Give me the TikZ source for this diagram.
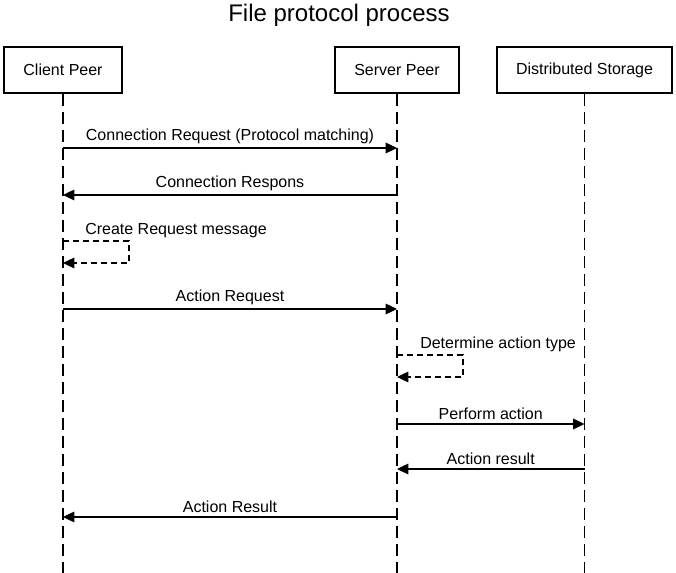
\documentclass[tikz,border=0pt]{standalone}
\usepackage{fontspec}
\setmainfont{Liberation Sans}
\usetikzlibrary{arrows.meta}
\begin{document}
\begin{tikzpicture}[x=0.75pt,y=-0.75pt,
  actor/.style={draw, line width=1.5pt, minimum height=34.5pt, inner sep=0pt,
    font=\fontsize{12}{14}\selectfont},
  lifeline/.style={line width=0.8pt, dash pattern=on 9pt off 4.5pt},
  msg/.style={line width=0.9pt, -{Triangle[length=8.5pt,width=8pt]}},
  selfmsg/.style={line width=0.9pt, dash pattern=on 4.5pt off 3pt, -{Triangle[length=8.5pt,width=8pt]}},
  lbl/.style={font=\fontsize{12}{14}\selectfont, inner sep=2.5pt},
]
\useasboundingbox (0,0) rectangle (676,573);

\node[font=\fontsize{18}{22}\selectfont] (title) at (339,15) {File protocol process};

\node[actor, minimum width=88.5pt] (client) at (63,70) {Client Peer};
\node[actor, minimum width=93pt] (server) at (397,70) {Server Peer};
\node[actor, minimum width=131.25pt] (storage) at (584.5,70) {Distributed Storage};

\coordinate (cend) at (63,573);
\coordinate (send) at (397,573);
\coordinate (dend) at (584.5,573);
\draw[lifeline] (client.south) -- (cend);
\draw[lifeline] (server.south) -- (send);
\draw[lifeline] (storage.south) -- (dend);

% 1
\coordinate (c1) at (63,148); \coordinate (s1) at (397,148);
\draw[msg] (c1) -- node[lbl, above] (l1) {Connection Request (Protocol matching)} (s1);
% 2
\coordinate (c2) at (63,195); \coordinate (s2) at (397,195);
\draw[msg] (s2) -- node[lbl, above] (l2) {Connection Respons} (c2);
% 3 self
\coordinate (c3a) at (63,241); \coordinate (c3b) at (129,241);
\coordinate (c3c) at (129,263); \coordinate (c3d) at (63,263);
\draw[selfmsg] (c3a) -- (c3b) -- (c3c) -- (c3d);
\node[lbl, anchor=base west, inner sep=0pt] (l3) at (85,235) {Create Request message};
% 4
\coordinate (c4) at (63,309); \coordinate (s4) at (397,309);
\draw[msg] (c4) -- node[lbl, above] (l4) {Action Request} (s4);
% 5 self
\coordinate (s5a) at (397,355); \coordinate (s5b) at (463,355);
\coordinate (s5c) at (463,377); \coordinate (s5d) at (397,377);
\draw[selfmsg] (s5a) -- (s5b) -- (s5c) -- (s5d);
\node[lbl, anchor=base west, inner sep=0pt] (l5) at (420,349) {Determine action type};
% 6
\coordinate (s6) at (397,424); \coordinate (d6) at (584.5,424);
\draw[msg] (s6) -- node[lbl, above] (l6) {Perform action} (d6);
% 7
\coordinate (s7) at (397,469); \coordinate (d7) at (584.5,469);
\draw[msg] (d7) -- node[lbl, above] (l7) {Action result} (s7);
% 8
\coordinate (c8) at (63,517); \coordinate (s8) at (397,517);
\draw[msg] (s8) -- node[lbl, above] (l8) {Action Result} (c8);
\end{tikzpicture}
\end{document}
